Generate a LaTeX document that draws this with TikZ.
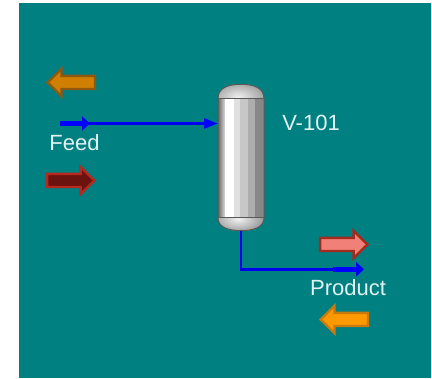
\documentclass[tikz,border=0pt]{standalone}
\usepackage{fontspec}
\setmainfont{Liberation Sans}
\usetikzlibrary{arrows.meta}
\definecolor{teal}{HTML}{008080}
\definecolor{labelc}{HTML}{E2F2F2}
\definecolor{blueline}{HTML}{0000F0}
\tikzset{
  bigarrowshape/.pic={\path[pic actions,line width=2.3pt,line join=miter,miter limit=10]
    (-23.9,-6.6) -- (9.6,-6.6) -- (9.6,-13.6) -- (23.4,0) -- (9.6,13.6) -- (9.6,6.6) -- (-23.9,6.6) -- cycle;},
  stream/.style={draw=blueline,line width=2.8pt},
  streamfat/.style={draw=blue,line width=5pt},
  headbig/.style={-{Triangle[length=8pt,width=14pt,fill=blue,color=blue]}},
  headlit/.style={-{Triangle[length=14pt,width=10pt,fill=blue,color=blue]}},
  lab/.style={text=labelc,font=\fontsize{22}{24}\selectfont,inner sep=0pt,anchor=base},
  vessel/.style={draw=none,minimum width=46pt,minimum height=147pt,inner sep=0pt},
}
\begin{document}
\begin{tikzpicture}[x=1pt,y=-1pt]
\useasboundingbox (0,0) rectangle (432,379);
\fill[teal] (19,3) rectangle (431,378);
% big coloured port arrows
\pic[fill={rgb,255:red,208;green,127;blue,0},draw={rgb,255:red,143;green,88;blue,16},xscale=-1] at (71,82.5) {bigarrowshape};
\pic[fill={rgb,255:red,107;green,19;blue,14},draw={rgb,255:red,184;green,40;blue,30}] at (71,180.5) {bigarrowshape};
\pic[fill={rgb,255:red,240;green,128;blue,120},draw={rgb,255:red,165;green,42;blue,30}] at (344,244.5) {bigarrowshape};
\pic[fill={rgb,255:red,255;green,153;blue,0},draw={rgb,255:red,200;green,122;blue,16},xscale=-1] at (344,319.5) {bigarrowshape};
% vessel
\node[vessel] (V101) at (241,157.5) {};
\begin{scope}
\clip (218,98.5) .. controls (218,88) and (228,84.3) .. (241,84.3) .. controls (254,84.3) and (264,88) .. (264,98.5) -- cycle;
\fill[black!35] (218,84) rectangle (264,99);
\shade[inner color=black!6,outer color=black!38] (238,97) ellipse (27 and 15);
\end{scope}
\begin{scope}
\clip (218,218) .. controls (218,227) and (228,230.7) .. (241,230.7) .. controls (254,230.7) and (264,227) .. (264,218) -- cycle;
\fill[black!45] (218,218) rectangle (264,231);
\shade[inner color=black!5,outer color=black!42] (238,219) ellipse (27 and 14);
\end{scope}
\shade[left color=black!60,right color=black!14] (218,98.5) rectangle (225,218);
\fill[white] (225,98.5) rectangle (233.5,218);
\fill[black!12] (233.5,98.5) rectangle (240,218);
\fill[black!22] (240,98.5) rectangle (248,218);
\fill[black!32] (248,98.5) rectangle (255,218);
\fill[black!47] (255,98.5) rectangle (264,218);
\draw[black!65,line width=1pt]
  (218,98.5) .. controls (218,88) and (228,84.3) .. (241,84.3) .. controls (254,84.3) and (264,88) .. (264,98.5)
  -- (264,218) .. controls (264,227) and (254,230.7) .. (241,230.7) .. controls (228,230.7) and (218,227) .. (218,218) -- cycle;
\draw[black!65,line width=1pt] (218,98.5) -- (264,98.5) (218,218) -- (264,218);
% streams
\coordinate (feedstart) at (60,123.5);
\coordinate (feedmark) at (90,123.5);
\coordinate (feedin) at (218,123.5);
\coordinate (prodout) at (241,231);
\coordinate (prodbend) at (241,269.3);
\coordinate (prodthick) at (333,269.3);
\coordinate (prodend) at (364,269.3);
\draw[stream,headlit] (feedstart) -- (feedin);
\draw[streamfat,headbig] (feedstart) -- (feedmark);
\draw[stream] (prodout) -- (prodbend) -- (prodthick);
\draw[streamfat,headbig] (prodthick) -- (prodend);
% labels
\node[lab] (feedlabel) at (74.5,151) {Feed};
\node[lab] (vlabel) at (311,131) {V-101};
\node[lab] (prodlabel) at (348,296) {Product};
\end{tikzpicture}
\end{document}
